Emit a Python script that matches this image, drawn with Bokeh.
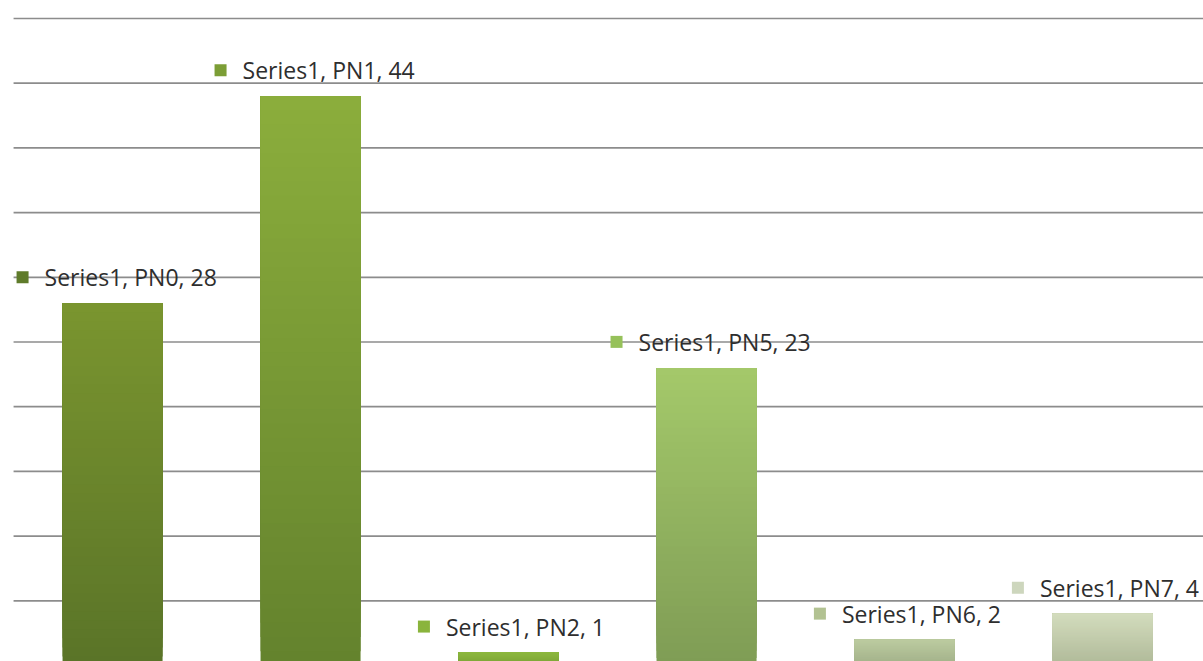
from bokeh.plotting import figure
from bokeh.models import Range1d
from bokeh.embed import file_html
from bokeh.resources import INLINE
from bokeh.core.properties import value

# ---- data ----
series_name = "Series1"
categories = ["PN0", "PN1", "PN2", "PN5", "PN6", "PN7"]
values = [28, 44, 1, 23, 2, 4]
grid_values = [0, 5, 10, 15, 20, 25, 30, 35, 40, 45, 50]
top_colors = ["#7a952f", "#8bae3c", "#8cb83e", "#a4c96a", "#bccba0", "#d3dcbd"]
bottom_colors = ["#5a7428", "#64822d", "#7aa035", "#7f9c55", "#a1b088", "#afb998"]
marker_colors = ["#5f7b2a", "#7c9e36", "#8ab43c", "#96c15a", "#b2c292", "#cdd6bd"]

# ---- layout ----
W, H = 1203, 661
x_start, x_end = -0.566, 5.51
y_start, y_end = 0.31, 51.39
px_x = W / (x_end - x_start)
px_y = H / (y_end - y_start)

p = figure(width=W, height=H, output_backend="svg", toolbar_location=None,
           x_range=Range1d(x_start, x_end), y_range=Range1d(y_start, y_end),
           min_border=0)
p.axis.visible = False
p.grid.visible = False
p.outline_line_color = None
p.background_fill_color = "white"
p.border_fill_color = "white"

# gridlines
p.segment(x0=[-0.5] * len(grid_values), x1=[x_end] * len(grid_values),
          y0=grid_values, y1=grid_values, line_color="#8c8c8c", line_width=1.7)


def hex2rgb(h):
    h = h.lstrip("#")
    return tuple(int(h[i:i + 2], 16) for i in (0, 2, 4))


def mix(c1, c2, t):
    a, b = hex2rgb(c1), hex2rgb(c2)
    return "#%02x%02x%02x" % tuple(round(a[k] + (b[k] - a[k]) * t) for k in range(3))


# bars with vertical gradient (overlapping slices, each reaching the bar top)
N = 40
bw = 100 / px_x
L, R, B, T, C = [], [], [], [], []
for i, v in enumerate(values):
    for k in range(N):
        L.append(i - bw / 2)
        R.append(i + bw / 2)
        B.append(v * k / N)
        T.append(v)
        C.append(mix(bottom_colors[i], top_colors[i], (k + 0.5) / N))
p.quad(left=L, right=R, bottom=B, top=T, fill_color=C, line_color=None)

# data labels
labels = [f"{series_name}, {c}, {v}" for c, v in zip(categories, values)]
char_w = 10.75
tx, ty, mx = [], [], []
for i, (lab, v) in enumerate(zip(labels, values)):
    est = len(lab) * char_w
    tx.append(i + (18 - est / 2) / px_x)
    mx.append(i + (18 - est / 2 - 22) / px_x)
    ty.append(v + 26 / px_y)

p.scatter(x=mx, y=ty, marker="square", size=12, fill_color=marker_colors,
          line_color=None)
p.text(x=tx, y=ty, text=labels, text_font=value("Open Sans"),
       text_font_size="23px", text_color="#2e2e2e", text_align="left",
       text_baseline="middle")

open("out.html", "w").write(file_html(p, INLINE))
